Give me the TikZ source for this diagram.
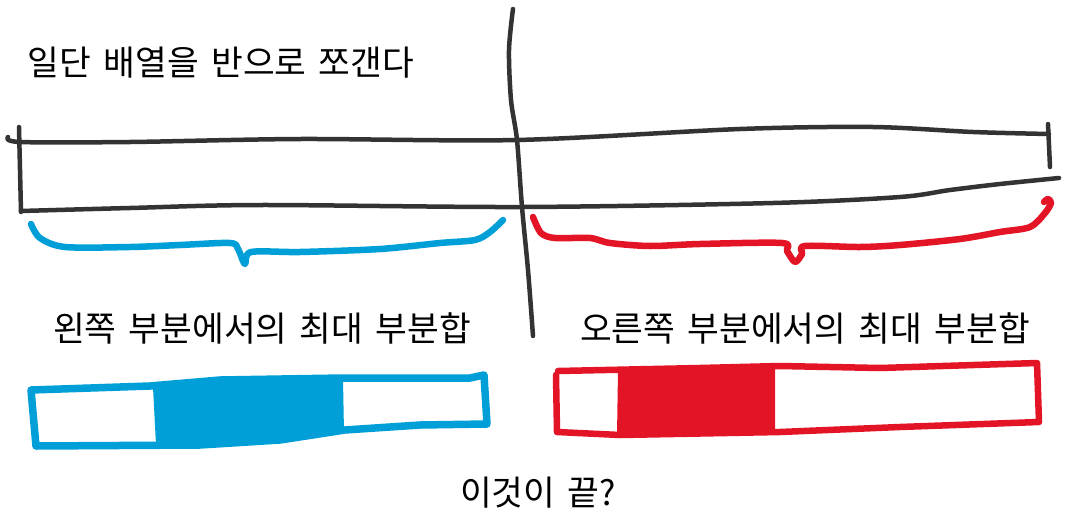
\documentclass[tikz,border=0pt]{standalone}
\usepackage{fontspec}
\newfontfamily\kr[WordSpace=1.6]{Noto Sans CJK KR}
\definecolor{ink}{HTML}{333333}
\definecolor{sblue}{HTML}{009FD8}
\definecolor{sred}{HTML}{E41427}
\begin{document}
\begin{tikzpicture}[x=1pt,y=-1pt, line cap=round, line join=round,
  pen/.style={draw=ink, line width=4.5pt},
  bpen/.style={draw=sblue, line width=6.5pt},
  rpen/.style={draw=sred, line width=6.5pt},
  lbl/.style={font=\kr\fontsize{34.5}{36}\selectfont, text=black, inner sep=0pt}]
\useasboundingbox (0,0) rectangle (1079,525);
\fill[white] (0,0) rectangle (1079,525);
% array outline
\draw[pen] plot[smooth, tension=0.5] coordinates {(8,137) (20,142) (130,142) (300,139) (517,140) (740,129) (873,127) (973,132) (1049,134)};
\draw[pen] (19,127) -- (21,212);
\draw[pen] plot[smooth, tension=0.5] coordinates {(21,211) (130,208) (260,205) (522,207) (773,203) (900,197) (950,190) (1000,184) (1059,178)};
\draw[pen] (1048,124) -- (1050,167);
% divider
\draw[pen] plot[smooth, tension=0.5] coordinates {(513,9) (509,50) (511,100) (517,140) (522,207) (528,270) (533,336)};
% braces
\draw[bpen] plot[smooth, tension=0.5] coordinates {(31,224) (40,238) (65,247) (130,247) (180,245) (230,243) (238,249) (245,264) (251,252) (300,252) (380,249) (440,243) (475,240) (490,232) (503,220)};
\draw[rpen] plot[smooth, tension=0.5] coordinates {(533,217) (541,233) (555,238) (590,238) (610,243) (650,246) (700,244) (782,243) (787,251) (795,262) (802,254) (805,246) (860,247) (900,245) (960,239) (1000,232) (1030,227) (1045,213) (1051,203) (1048,199) (1044,202)};
% blue result box
\fill[sblue] (153,387) -- (220,380) -- (300,378) -- (343,378) -- (344,433) -- (280,440) -- (200,445) -- (156,445) -- cycle;
\draw[sblue, line width=7.5pt] (31,390) -- (150,386) -- (220,380) -- (343,378) -- (470,378) -- (484,375) -- (487,424) -- (420,425) -- (345,430) -- (280,440) -- (200,445) -- (36,446) -- cycle;
% red result box
\fill[sred] (618,370) -- (775,366) -- (775,433) -- (700,434) -- (617,436) -- cycle;
\draw[sred, line width=6.5pt] (558,371) -- (700,368) -- (780,366) -- (880,368) -- (1037,363) -- (1039,422) -- (900,427) -- (780,432) -- (620,435) -- (557,432) -- (556,375);
% labels
\node[lbl] (t1) at (221,63) {일단 배열을 반으로 쪼갠다};
\node[lbl] (t2) at (262,328) {왼쪽 부분에서의 최대 부분합};
\node[lbl] (t3) at (805,328) {오른쪽 부분에서의 최대 부분합};
\node[lbl] (t4) at (538,493) {이것이 끝?};
\end{tikzpicture}
\end{document}
